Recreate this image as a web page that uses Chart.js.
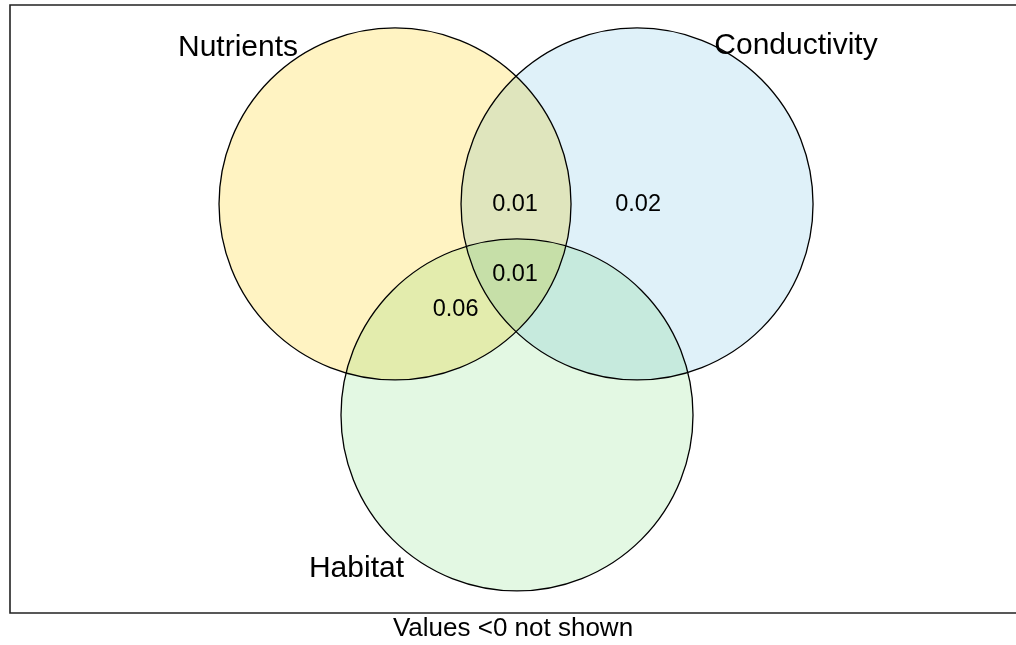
<!DOCTYPE html>
<html>
<head>
<meta charset="utf-8">
<script src="https://cdn.jsdelivr.net/npm/chart.js@4.4.0/dist/chart.umd.min.js"></script>
<style>
  html, body { margin: 0; padding: 0; background: #fff; }
  #wrap { width: 1016px; height: 645px; position: relative; }
</style>
</head>
<body>
<div id="wrap"><canvas id="venn"></canvas></div>
<script>
// sets, in units of one circle radius
const setNames = ['Nutrients', 'Conductivity', 'Habitat'];
const circleX = [0, 1.375, 0.693];
const circleY = [0, 0, -1.199];
const circleR = [1, 1, 1];
const labelX = [-0.892, 2.278, -0.219];
const labelY = [0.89, 0.9, -2.072];

// region values that are shown
const regionValues = ['0.01', '0.02', '0.01', '0.06'];
const regionX = [0.682, 1.381, 0.682, 0.344];
const regionY = [-0.004, -0.004, -0.402, -0.601];

const fills = ['#FFF3C2', '#DFF1F9', '#E3F8E3'];
const font = "'Liberation Sans', Arial, Helvetica, sans-serif";

// radius in data units -> pixels, from the x scale
function radiusPx(chart, r) {
    const x = chart.scales.x;
    return Math.abs(x.getPixelForValue(r) - x.getPixelForValue(0));
}

const vennPlugin = {
    id: 'venn',
    beforeDraw(chart) {
        const c = chart.ctx;
        c.save();
        c.fillStyle = '#fff';
        c.fillRect(0, 0, chart.width, chart.height);
        c.restore();
    },
    beforeDatasetsDraw(chart) {
        chart.ctx.save();
        chart.ctx.globalCompositeOperation = 'multiply';
    },
    afterDatasetsDraw(chart) {
        chart.ctx.restore();
        const c = chart.ctx;
        const x = chart.scales.x, y = chart.scales.y;
        c.save();
        c.fillStyle = '#000';
        c.textAlign = 'center';
        c.textBaseline = 'middle';
        c.font = `30px ${font}`;
        setNames.forEach((name, i) => {
            c.fillText(name, x.getPixelForValue(labelX[i]), y.getPixelForValue(labelY[i]));
        });
        c.font = `23.5px ${font}`;
        regionValues.forEach((v, i) => {
            c.fillText(v, x.getPixelForValue(regionX[i]), y.getPixelForValue(regionY[i]));
        });
        c.restore();
    },
    afterDraw(chart) {
        const a = chart.chartArea;
        const c = chart.ctx;
        c.save();
        c.strokeStyle = '#222';
        c.lineWidth = 1.6;
        c.beginPath();
        c.moveTo(a.right + 5, a.top);
        c.lineTo(a.left, a.top);
        c.lineTo(a.left, a.bottom);
        c.lineTo(a.right + 5, a.bottom);
        c.stroke();
        c.restore();
    }
};

new Chart(document.getElementById('venn').getContext('2d'), {
    type: 'scatter',
    data: {
        datasets: setNames.map((name, i) => ({
            label: name,
            data: [{ x: circleX[i], y: circleY[i] }],
            pointRadius: ctx => radiusPx(ctx.chart, circleR[i]),
            pointHoverRadius: ctx => radiusPx(ctx.chart, circleR[i]),
            pointBackgroundColor: fills[i],
            pointBorderColor: '#000',
            pointBorderWidth: 1.3,
            clip: false,
        }))
    },
    options: {
        responsive: true,
        maintainAspectRatio: false,
        animation: false,
        events: [],
        layout: { padding: { left: 10, top: 5, right: 0, bottom: 0 } },
        scales: {
            x: { type: 'linear', display: false, min: -2.1875, max: 3.528 },
            y: { type: 'linear', display: false, min: -2.325, max: 1.1307 }
        },
        plugins: {
            legend: { display: false },
            tooltip: { enabled: false },
            title: {
                display: true,
                position: 'bottom',
                text: 'Values <0 not shown',
                color: '#000',
                font: { family: font, size: 26, weight: 'normal', lineHeight: 1.1 },
                padding: { top: 2, bottom: 1.4 }
            }
        }
    },
    plugins: [vennPlugin]
});
</script>
</body>
</html>
